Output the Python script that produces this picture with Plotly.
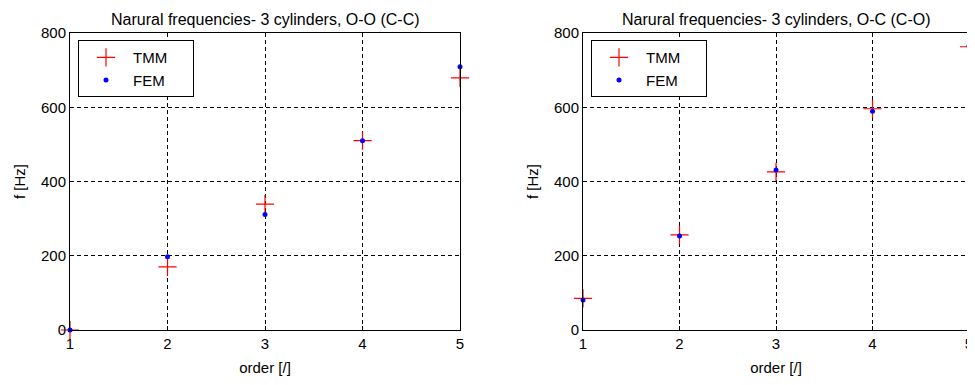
import plotly.graph_objects as go

order = [1, 2, 3, 4, 5]
tmm_oo = [0, 170, 339, 510, 679]
fem_oo = [0, 197, 311, 510, 709]
tmm_oc = [85, 256, 426, 596, 763]
fem_oc = [81, 253, 431, 589, 765]

titles = ["Narural frequencies- 3 cylinders, O-O (C-C)",
          "Narural frequencies- 3 cylinders, O-C (C-O)"]
series_names = ["TMM", "FEM"]
x_ticks = [1, 2, 3, 4, 5]
y_ticks = [0, 200, 400, 600, 800]

# the page body has an 8px margin, so the figure is a bit smaller than the window
OFF = 8
W, H = 975 - OFF, 385 - 2 * OFF
font = dict(family="Liberation Sans, Arial, sans-serif", size=15, color="black")

fig = go.Figure()

pad = "\u00a0" * 5
panels = [(tmm_oo, fem_oo, "x", "y", "legend"), (tmm_oc, fem_oc, "x2", "y2", "legend2")]
for tmm, fem, xa, ya, lg in panels:
    fig.add_trace(go.Scatter(x=order, y=tmm, mode="markers", name=series_names[0] + pad,
                             xaxis=xa, yaxis=ya, legend=lg, cliponaxis=False,
                             marker=dict(symbol="cross-thin", size=13,
                                         line=dict(color="red", width=1.2), color="red")))
    fig.add_trace(go.Scatter(x=order, y=fem, mode="markers", name=series_names[1] + pad,
                             xaxis=xa, yaxis=ya, legend=lg, cliponaxis=False,
                             marker=dict(symbol="circle", size=5, color="blue")))

axis_common = dict(showline=True, linecolor="black", linewidth=1, mirror=True,
                   showgrid=True, gridcolor="black", griddash="4px,3px", gridwidth=1,
                   ticks="inside", ticklen=4, tickcolor="black", zeroline=False,
                   automargin=False,
                   tickfont=dict(size=15, color="black"))

px_doms = [(70 - OFF, 460 - OFF), (583 - OFF, 969 - OFF)]
doms = [(a / W, b / W) for a, b in px_doms]
top = 33 - OFF
bottom = H - (330 - OFF)
layout = dict(
    width=W, height=H,
    margin=dict(l=0, r=0, t=top, b=bottom),
    paper_bgcolor="white", plot_bgcolor="white",
    font=font, showlegend=True,
)
for i, (d0, d1) in enumerate(doms):
    sfx = "" if i == 0 else "2"
    layout["xaxis" + sfx] = dict(axis_common, domain=[d0, d1], range=[1, 5],
                                 tickvals=x_ticks, anchor="y" + sfx,
                                 title=dict(text="order [/]", standoff=11,
                                            font=dict(size=15)))
    layout["yaxis" + sfx] = dict(axis_common, domain=[0, 1], range=[0, 800],
                                 tickvals=y_ticks, anchor="x" + sfx,
                                 title=dict(text="f [Hz]", standoff=11,
                                            font=dict(size=15)))
    layout["legend" + sfx] = dict(x=(px_doms[i][0] + 8) / W, y=0.976,
                                  xanchor="left", yanchor="top",
                                  bordercolor="black", borderwidth=1, bgcolor="white",
                                  font=dict(size=15), itemwidth=44, tracegroupgap=0)

fig.update_layout(**layout)

annotations = []
for i, (d0, d1) in enumerate(doms):
    annotations.append(dict(text=titles[i], x=(d0 + d1) / 2, y=1, xref="paper", yref="paper",
                            xanchor="center", yanchor="bottom", yshift=3, showarrow=False,
                            font=dict(size=16, color="black")))
fig.update_layout(annotations=annotations)

fig.write_html("out.html")
